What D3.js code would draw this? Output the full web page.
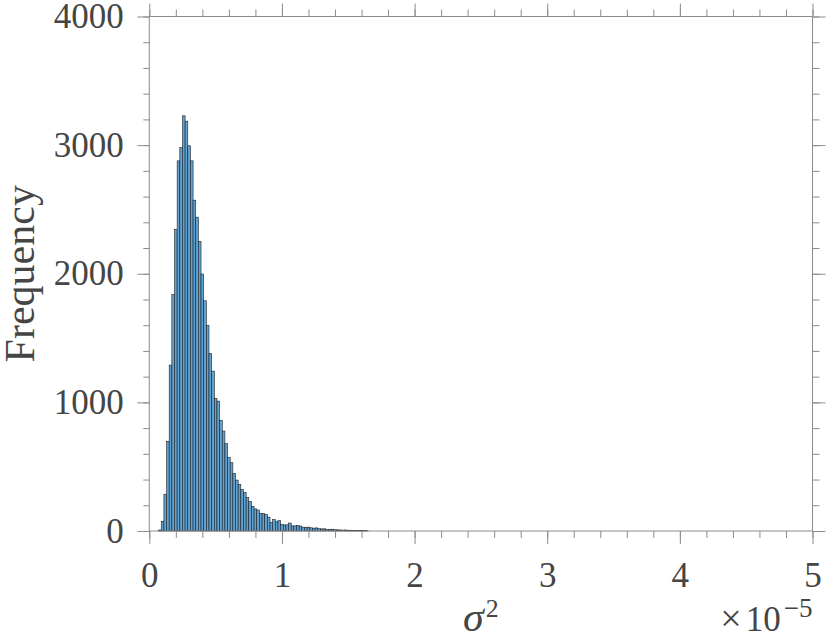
<!DOCTYPE html>
<html><head><meta charset="utf-8">
<script src="https://cdn.jsdelivr.net/npm/d3@7"></script>
<style>body{margin:0;background:#fff}svg{display:block}</style>
</head><body>
<script>
// ---- data (σ² in units of 1e-5) ----
const binStart = 0.07;
const binWidth = 0.02;
const counts = [8, 75, 286, 697, 1290, 1839, 2344, 2878, 2981, 3228, 3186, 2995, 2878, 2572, 2440, 2250,
  1998, 1790, 1598, 1381, 1243, 1031, 1010, 860, 777, 679, 570, 531, 448, 396, 363, 322, 298, 260, 228,
  192, 172, 163, 137, 135, 128, 108, 68, 88, 72, 81, 50, 47, 48, 62, 40, 40, 42, 38, 30, 28, 30, 25, 22,
  24, 18, 16, 17, 13, 12, 14, 10, 9, 8, 7, 8, 5, 6, 4, 4, 3, 5, 3, 2];
const xTickValues = [0, 1, 2, 3, 4, 5];
const yTickValues = [0, 1000, 2000, 3000, 4000];
const xDomain = [0, 5];
const yDomain = [0, 4000];
const xLabel = "σ";
const xLabelSup = "2";
const yLabel = "Frequency";
const exponentTimes = "×";
const exponentBase = "10";
const exponentSup = "−5";

// ---- layout ----
const W = 830, H = 641;
const L = 149.3, R = 812.5, T = 16.5, B = 531;
const axisColor = "#8c8c8c", textColor = "#454545";
const font = "'Liberation Serif', 'DejaVu Serif', serif";

const svg = d3.select("body").append("svg").attr("width", W).attr("height", H);
const x = d3.scaleLinear().domain(xDomain).range([L, R]);
const y = d3.scaleLinear().domain(yDomain).range([B, T]);

const bins = counts.map((c, i) => ({x0: binStart + i * binWidth, x1: binStart + (i + 1) * binWidth, c}));

svg.append("g").selectAll("rect").data(bins.filter(d => d.c > 0)).join("rect")
  .attr("x", d => x(d.x0))
  .attr("width", d => x(d.x1) - x(d.x0))
  .attr("y", d => y(d.c))
  .attr("height", d => y(0) - y(d.c))
  .attr("fill", "#5fa3d4")
  .attr("stroke", "#1e1e1e")
  .attr("stroke-width", 0.6);

function styleAxis(g) {
  g.select(".domain").remove();
  g.selectAll("line").attr("stroke", axisColor).attr("stroke-width", 1);
  g.selectAll("text").attr("fill", textColor).attr("font-family", font).attr("font-size", 35);
}
const xMinor = x.ticks(25), yMinor = y.ticks(20);

// minor ticks
svg.append("g").attr("transform", `translate(0,${B})`).call(d3.axisBottom(x).tickValues(xMinor).tickSize(7).tickFormat("")).call(styleAxis);
svg.append("g").attr("transform", `translate(0,${T})`).call(d3.axisTop(x).tickValues(xMinor).tickSize(7).tickFormat("")).call(styleAxis);
svg.append("g").attr("transform", `translate(${L},0)`).call(d3.axisLeft(y).tickValues(yMinor).tickSize(6).tickFormat("")).call(styleAxis);
svg.append("g").attr("transform", `translate(${R},0)`).call(d3.axisRight(y).tickValues(yMinor).tickSize(7).tickFormat("")).call(styleAxis);
// major ticks
svg.append("g").attr("transform", `translate(0,${B})`).call(d3.axisBottom(x).tickValues(xTickValues).tickSize(13).tickPadding(18).tickFormat(d3.format("d"))).call(styleAxis);
svg.append("g").attr("transform", `translate(0,${T})`).call(d3.axisTop(x).tickValues(xTickValues).tickSize(13).tickFormat("")).call(styleAxis);
svg.append("g").attr("transform", `translate(${L},0)`).call(d3.axisLeft(y).tickValues(yTickValues).tickSize(12).tickPadding(13.5).tickFormat(d3.format("d"))).call(styleAxis);
svg.append("g").attr("transform", `translate(${R},0)`).call(d3.axisRight(y).tickValues(yTickValues).tickSize(13).tickFormat("")).call(styleAxis);

// box
svg.append("rect").attr("x", L).attr("y", T).attr("width", R - L).attr("height", B - T)
  .attr("fill", "none").attr("stroke", axisColor).attr("stroke-width", 1);

// y label
svg.append("text").attr("transform", `translate(34,${(T + B) / 2}) rotate(-90)`)
  .attr("text-anchor", "middle").attr("font-family", font).attr("font-size", 42).attr("fill", textColor)
  .text(yLabel);

// x label
const xl = svg.append("text").attr("x", (L + R) / 2).attr("y", 631).attr("text-anchor", "middle")
  .attr("font-family", font).attr("fill", textColor);
xl.append("tspan").attr("font-style", "italic").attr("font-size", 42).text(xLabel);
xl.append("tspan").attr("font-size", 26).attr("dy", -14).attr("dx", 2).text(xLabelSup);

// exponent
const ex = svg.append("text").attr("x", R).attr("y", 631).attr("text-anchor", "end")
  .attr("font-family", font).attr("fill", textColor);
ex.append("tspan").attr("font-size", 38).text(exponentTimes);
ex.append("tspan").attr("font-size", 35).attr("dx", 4).text(exponentBase);
ex.append("tspan").attr("font-size", 27).attr("dy", -14).attr("dx", 3).text(exponentSup);
</script>
</body></html>
